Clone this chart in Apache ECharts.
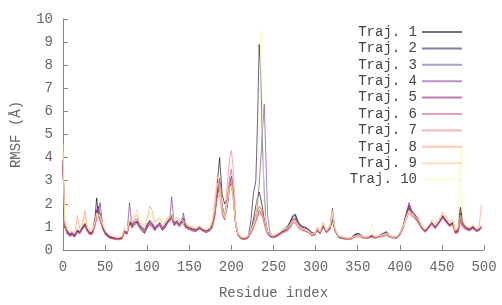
<!DOCTYPE html>
<html>
<head>
<meta charset="utf-8">
<script src="https://cdn.jsdelivr.net/npm/echarts@6/dist/echarts.min.js"></script>
<style>
  html, body { margin: 0; padding: 0; background: #fff; }
  #main { width: 502px; height: 305px; }
</style>
</head>
<body>
<div id="main"></div>
<script>
// residue positions shared by all trajectories
var residues = [
  0,2,5,8,11,14,17,20,23,26, 29,32,35,38,40,42,44,47,50,55, 60,65,70,73,76,79,82,85,88,91,
  94,97,100,103,106,109,112,115,118,121, 124,127,129,132,135,138,141,143,146,150, 154,158,162,166,170,174,
  177,180,183,186,189,192,195,198,200,202, 205,208,212,216,220,223,226,229,231,233, 235,237,239,241,243,246,250,
  254,258,262,266,270,273,276,279,283,287, 291,295,299,302,305,309,313,317,320,323,
  327,332,337,342,347,351,356,361,364,367, 370,375,380,384,388,392,396,400,404,408,
  411,414,418,422,426,430,434,438,442,446, 451,455,459,463,466,469,472,475,479,483,
  487,491,494,497
];

var trajNames = ['Traj. 1','Traj. 2','Traj. 3','Traj. 4','Traj. 5','Traj. 6','Traj. 7','Traj. 8','Traj. 9','Traj. 10'];
var trajColors = ['#000000','#1c1550','#6a4aa8','#7a2f95','#8a0c6c','#d3507e','#f47a82','#fb9a72','#fdc98f','#fbf6a8'];

var traj1 = [
  3.9,1.0,0.75,0.65,0.7,0.6,0.8,0.75,0.95,1.1, 0.85,0.7,0.75,1.4,2.25,1.5,1.3,0.95,0.7,0.55,
  0.5,0.48,0.5,0.8,0.7,1.2,1.0,1.15,1.2,1.0, 0.95,0.85,1.0,1.2,1.1,0.9,1.05,1.1,0.95,1.0,
  1.2,1.3,1.5,1.1,1.2,1.1,1.2,1.3,1.0,0.95, 0.9,0.85,0.95,0.85,0.8,0.85,
  1.0,1.7,2.8,4.0,2.4,2.0,2.2,2.8,3.1,2.6, 1.2,0.65,0.5,0.48,0.55,0.75,1.3,1.9,2.3,2.5,
  2.2,1.8,1.3,0.9,0.7,0.6,0.55,
  0.6,0.7,0.85,0.95,1.2,1.45,1.5,1.2,1.0,0.95, 0.9,0.75,0.7,0.85,0.7,1.0,0.75,0.9,1.3,0.85,
  0.55,0.5,0.48,0.5,0.65,0.7,0.55,0.52,0.55,0.6, 0.52,0.58,0.65,0.7,0.6,0.55,0.52,0.65,1.0,1.5,
  1.8,1.55,1.4,1.2,0.95,0.8,0.95,1.15,0.95,1.15, 1.45,1.25,1.05,1.15,0.75,0.9,1.85,1.2,0.95,0.9,
  1.0,0.85,0.9,0.95
];
var traj2 = [
  3.7,1.1,0.8,0.7,0.72,0.62,0.85,0.78,0.95,1.15, 0.88,0.72,0.78,1.2,1.7,1.9,1.5,1.0,0.75,0.58,
  0.52,0.5,0.53,0.82,0.72,1.25,1.05,1.2,1.25,1.05, 0.92,0.8,1.05,1.25,1.1,0.95,1.05,1.15,0.9,1.05,
  1.25,1.35,1.5,1.15,1.25,1.1,1.25,1.35,1.05,0.95, 0.9,0.88,0.98,0.88,0.82,0.88,
  1.05,1.5,2.4,3.0,1.9,1.5,1.9,2.7,2.9,2.3, 1.1,0.65,0.52,0.5,0.6,1.2,2.4,3.0,5.5,8.9,
  7.5,4.5,2.5,1.2,0.8,0.65,0.6,
  0.65,0.78,0.9,1.0,1.25,1.5,1.55,1.25,1.05,1.0, 0.92,0.78,0.72,0.9,0.75,1.05,0.8,0.95,1.35,0.88,
  0.6,0.55,0.5,0.52,0.68,0.72,0.58,0.55,0.58,0.62, 0.55,0.6,0.68,0.75,0.62,0.57,0.55,0.7,1.05,1.6,
  1.9,1.65,1.5,1.3,1.0,0.85,1.0,1.2,1.0,1.2, 1.5,1.3,1.1,1.2,0.8,0.85,1.6,1.1,0.95,0.9,
  1.0,0.85,0.9,1.0
];
var traj3 = [
  3.8,1.15,0.82,0.72,0.75,0.66,0.88,0.8,1.0,1.15, 0.9,0.76,0.8,1.25,1.75,1.7,1.6,1.05,0.78,0.6,
  0.54,0.5,0.55,0.84,0.74,1.3,1.1,1.3,1.35,1.1, 1.0,0.9,1.1,1.3,1.2,1.0,1.1,1.2,1.0,1.1,
  1.3,1.4,1.55,1.2,1.3,1.2,1.3,1.4,1.1,1.0, 0.95,0.9,1.0,0.9,0.85,0.9,
  1.1,1.6,2.6,2.9,1.8,1.4,2.0,2.9,3.0,2.4, 1.2,0.7,0.55,0.5,0.6,0.8,1.1,1.5,2.0,2.8,
  4.0,5.2,6.3,4.0,1.5,0.7,0.6,
  0.65,0.75,0.85,0.9,1.1,1.3,1.35,1.1,0.95,0.9, 0.85,0.7,0.7,0.9,0.75,1.1,0.8,1.0,1.45,0.9,
  0.6,0.55,0.5,0.5,0.62,0.66,0.56,0.55,0.6,0.66, 0.56,0.6,0.66,0.72,0.6,0.55,0.55,0.7,1.0,1.5,
  1.8,1.6,1.5,1.3,1.0,0.85,1.0,1.2,1.0,1.2, 1.5,1.3,1.1,1.2,0.8,0.8,1.3,1.1,0.95,0.9,
  1.0,0.85,0.9,1.0
];
var traj4 = [
  3.8,1.1,0.78,0.68,0.72,0.62,0.85,0.78,0.95,1.1, 0.85,0.72,0.78,1.2,1.7,1.55,1.5,1.0,0.75,0.58,
  0.52,0.48,0.52,0.8,0.72,2.05,1.0,1.2,1.25,1.0, 0.85,0.75,1.15,1.1,1.0,0.85,1.0,1.1,0.85,1.0,
  1.2,1.4,2.3,1.1,1.2,1.05,1.2,1.6,1.0,0.9, 0.85,0.82,0.95,0.85,0.78,0.85,
  1.0,1.5,2.5,3.1,1.9,1.45,1.9,2.8,2.9,2.3, 1.1,0.65,0.52,0.48,0.58,0.85,1.2,1.5,1.7,1.9,
  1.8,1.6,1.3,1.0,0.78,0.62,0.58,
  0.62,0.72,0.82,0.9,1.1,1.35,1.4,1.15,1.0,1.0, 0.9,0.72,0.68,0.88,0.72,1.05,0.78,0.95,1.4,0.88,
  0.58,0.52,0.5,0.52,0.7,0.68,0.56,0.52,0.56,0.62, 0.55,0.62,0.72,0.8,0.62,0.56,0.55,0.72,1.05,1.6,
  1.95,1.7,1.5,1.3,1.0,0.82,0.98,1.15,0.98,1.15, 1.45,1.25,1.05,1.15,0.78,0.85,1.4,1.1,0.95,0.9,
  1.05,0.9,0.95,1.05
];
var traj5 = [
  3.6,1.0,0.72,0.62,0.66,0.58,0.8,0.72,0.9,1.05, 0.82,0.68,0.72,1.1,1.5,1.7,2.05,1.1,0.72,0.55,
  0.5,0.46,0.5,0.75,0.68,1.2,0.95,1.1,1.15,0.95, 0.8,0.72,0.95,1.1,1.05,0.85,1.0,1.05,0.85,0.95,
  1.15,1.25,1.4,1.05,1.15,1.0,1.15,1.25,0.95,0.88, 0.82,0.8,0.92,0.82,0.75,0.82,
  0.95,1.4,2.3,2.7,1.7,1.3,1.9,2.9,3.2,2.5, 1.1,0.6,0.48,0.46,0.55,0.75,1.0,1.3,1.5,1.7,
  1.6,1.5,1.2,0.9,0.7,0.58,0.55,
  0.6,0.7,0.8,0.85,1.05,1.25,1.3,1.05,0.9,0.85, 0.8,0.66,0.66,0.85,0.7,1.05,0.75,1.0,1.8,0.85,
  0.56,0.5,0.48,0.48,0.6,0.64,0.54,0.52,0.56,0.6, 0.54,0.62,0.7,0.78,0.6,0.54,0.52,0.66,1.0,1.6,
  2.05,1.7,1.55,1.25,0.95,0.8,0.95,1.15,0.95,1.15, 1.45,1.25,1.05,1.15,0.75,0.75,1.3,1.05,0.9,0.85,
  0.95,0.8,0.85,0.95
];
var traj6 = [
  3.7,1.05,0.7,0.6,0.64,0.56,0.78,0.72,0.92,1.05, 0.8,0.66,0.7,1.05,1.4,1.45,1.4,0.95,0.7,0.52,
  0.48,0.45,0.48,0.78,0.7,1.15,1.05,1.2,1.2,1.0, 0.95,0.85,1.0,1.2,1.1,0.95,1.05,1.15,0.95,1.05,
  1.2,1.3,1.4,1.1,1.2,1.1,1.2,1.25,1.0,0.92, 0.88,0.85,0.95,0.85,0.8,0.85,
  1.0,1.5,2.4,2.7,1.6,1.3,2.2,3.2,3.5,2.6, 1.1,0.6,0.5,0.46,0.55,0.72,0.95,1.25,1.5,1.7,
  1.6,1.45,1.2,0.9,0.7,0.58,0.55,
  0.6,0.7,0.78,0.82,1.0,1.2,1.2,1.0,0.88,0.82, 0.78,0.64,0.64,0.85,0.7,1.05,0.75,0.95,1.5,0.85,
  0.55,0.5,0.46,0.46,0.56,0.6,0.52,0.5,0.54,0.58, 0.52,0.56,0.6,0.64,0.56,0.52,0.5,0.65,0.95,1.4,
  1.7,1.5,1.4,1.2,0.95,0.8,0.95,1.15,0.95,1.15, 1.4,1.2,1.05,1.1,0.72,0.8,1.2,1.0,0.88,0.85,
  0.95,0.8,0.85,1.0
];
var traj7 = [
  3.8,1.0,0.68,0.58,0.62,0.55,0.75,0.7,0.88,1.0, 0.78,0.64,0.68,1.0,1.3,1.35,1.3,0.9,0.65,0.5,
  0.46,0.44,0.46,0.75,0.68,1.1,1.0,1.15,1.15,0.95, 0.9,0.8,0.95,1.15,1.05,0.9,1.0,1.1,0.9,1.0,
  1.15,1.25,1.35,1.05,1.15,1.05,1.15,1.2,0.95,0.9, 0.85,0.82,0.9,0.82,0.78,0.82,
  0.95,1.4,2.2,2.4,1.5,1.3,2.8,4.0,4.3,3.6, 1.3,0.6,0.48,0.45,0.52,0.7,0.9,1.2,1.4,1.6,
  1.5,1.4,1.1,0.85,0.68,0.56,0.52,
  0.58,0.66,0.75,0.8,0.95,1.15,1.15,0.95,0.85,0.8, 0.75,0.62,0.62,0.95,0.7,1.15,0.75,0.9,1.4,0.8,
  0.54,0.48,0.45,0.46,0.55,0.58,0.5,0.5,0.52,0.56, 0.5,0.54,0.58,0.62,0.55,0.5,0.5,0.62,0.9,1.35,
  1.6,1.45,1.35,1.15,0.9,0.75,0.9,1.1,0.9,1.1, 1.35,1.15,1.0,1.05,0.7,0.72,1.1,0.95,0.85,0.82,
  0.9,0.78,0.82,0.95
];
var traj8 = [
  4.0,1.2,0.85,0.75,0.8,0.7,1.5,0.9,1.1,1.7, 1.0,0.8,0.85,1.2,1.6,1.5,1.45,1.1,0.85,0.65,
  0.58,0.52,0.58,0.95,0.82,1.3,1.2,1.45,1.5,1.2, 1.1,1.0,1.4,1.9,1.7,1.2,1.3,1.4,1.1,1.2,
  1.4,1.45,1.5,1.3,1.4,1.3,1.35,1.4,1.15,1.05, 1.0,0.95,1.05,0.95,0.9,0.95,
  1.2,1.7,2.8,3.0,1.9,1.5,2.1,3.0,3.1,2.5, 1.2,0.7,0.55,0.52,0.62,0.85,1.1,1.5,1.7,1.9,
  1.8,1.6,1.3,1.0,0.75,0.65,0.62,
  0.7,0.8,0.9,0.95,1.15,1.3,1.3,1.1,0.95,0.9, 0.85,0.72,0.72,1.0,0.8,1.2,0.85,1.05,1.5,0.95,
  0.62,0.56,0.52,0.52,0.6,0.65,0.56,0.56,0.6,0.65, 0.56,0.6,0.66,0.72,0.62,0.56,0.56,0.72,1.05,1.5,
  1.75,1.6,1.55,1.4,1.1,0.9,1.05,1.3,1.1,1.3, 1.65,1.45,1.2,1.3,0.85,0.9,1.3,1.15,1.0,0.95,
  1.05,0.9,0.95,1.97
];
var traj9 = [
  4.2,1.3,0.9,0.8,0.85,0.75,1.0,0.95,1.15,1.5, 1.0,0.82,0.88,1.25,1.6,1.55,1.5,1.15,0.88,0.66,
  0.6,0.54,0.6,1.0,0.85,1.35,1.3,1.5,1.75,1.3, 1.15,1.05,1.3,1.6,1.5,1.2,1.25,1.35,1.1,1.2,
  1.35,1.45,1.55,1.3,1.4,1.3,1.35,1.4,1.15,1.05, 1.0,0.95,1.05,0.95,0.9,1.0,
  1.3,2.2,3.2,2.8,1.8,1.4,2.0,2.8,3.0,2.4, 1.2,0.7,0.56,0.54,0.64,0.85,1.1,1.4,1.6,1.8,
  1.7,1.5,1.25,0.95,0.75,0.65,0.62,
  0.7,0.8,0.9,0.95,1.1,1.25,1.25,1.05,0.95,0.9, 0.85,0.72,0.72,0.95,0.78,1.15,0.85,1.05,1.55,0.95,
  0.62,0.56,0.52,0.52,0.6,0.64,0.56,0.56,0.6,0.7, 0.56,0.6,0.66,0.7,0.62,0.56,0.56,0.72,1.0,1.45,
  1.65,1.5,1.45,1.3,1.05,0.9,1.05,1.25,1.05,1.25, 1.6,1.4,1.2,1.3,0.85,0.95,1.5,1.2,1.0,1.0,
  1.1,0.9,0.95,1.1
];
var traj10 = [
  4.6,1.3,0.9,0.8,0.85,0.75,0.95,0.9,1.1,1.3, 0.95,0.8,0.85,1.2,1.55,1.5,1.45,1.1,0.85,0.65,
  0.58,0.53,0.58,0.95,0.82,1.3,1.25,1.45,1.6,1.25, 1.1,1.0,1.3,1.7,1.45,1.15,1.25,1.35,1.05,1.15,
  1.3,1.4,1.5,1.25,1.35,1.25,1.3,1.35,1.1,1.0, 0.98,0.92,1.02,0.92,0.88,0.95,
  1.2,1.8,2.9,2.7,1.7,1.4,2.0,2.7,2.8,2.2, 1.1,0.65,0.55,0.52,0.6,0.8,1.0,1.4,2.5,5.0,
  9.5,5.5,2.0,1.1,0.75,0.65,0.6,
  0.68,0.78,0.88,0.92,1.1,1.25,1.25,1.05,0.92,0.88, 0.82,0.7,0.7,0.95,0.78,1.15,0.82,1.0,1.7,0.9,
  0.6,0.55,0.5,0.52,0.6,0.64,0.56,0.56,0.62,1.13, 0.6,0.62,0.66,0.72,0.62,0.56,0.56,0.72,1.0,1.45,
  1.7,1.55,1.45,1.3,1.0,0.88,1.05,1.25,1.05,1.25, 1.55,1.35,1.15,1.25,0.85,1.0,4.4,1.3,1.05,1.0,
  1.1,0.9,0.95,1.05
];

var xTicks = [0, 500, 50];   // min, max, step
var yTicks = [0, 10, 1];

var allTraj = [traj1, traj2, traj3, traj4, traj5, traj6, traj7, traj8, traj9, traj10];

var fontFam = '"Liberation Mono", "DejaVu Sans Mono", monospace';
var txtColor = '#666';

var chart = echarts.init(document.getElementById('main'), null, { renderer: 'canvas' });

var series = allTraj.map(function (vals, i) {
    return {
        name: trajNames[i],
        type: 'line',
        data: residues.map(function (r, k) { return [r, vals[k]]; }),
        showSymbol: false,
        symbol: 'none',
        color: trajColors[i],
        lineStyle: { width: 1, opacity: 0.65 }
    };
});

var option = {
    animation: false,
    backgroundColor: '#fff',
    grid: { left: 63, right: 18, top: 19, bottom: 48 },
    legend: {
        orient: 'vertical',
        align: 'right',
        right: 35,
        top: 20,
        icon: 'rect',
        itemWidth: 40,
        itemHeight: 2,
        itemGap: 2.4,
        itemStyle: { opacity: 0.55 },
        textStyle: { fontFamily: fontFam, fontSize: 14, color: '#444' },
        data: trajNames
    },
    xAxis: {
        type: 'value',
        min: xTicks[0], max: xTicks[1], interval: xTicks[2],
        name: 'Residue index',
        nameLocation: 'middle',
        nameGap: 36,
        nameTextStyle: { fontFamily: fontFam, fontSize: 14, color: txtColor },
        axisLine: { lineStyle: { color: '#888' } },
        axisTick: { inside: true, length: 5, lineStyle: { color: '#888' } },
        axisLabel: { fontFamily: fontFam, fontSize: 14, color: txtColor, margin: 10 },
        splitLine: { show: false }
    },
    yAxis: {
        type: 'value',
        min: yTicks[0], max: yTicks[1], interval: yTicks[2],
        name: 'RMSF (Å)',
        nameLocation: 'middle',
        nameGap: 40,
        nameTextStyle: { fontFamily: fontFam, fontSize: 14, color: txtColor },
        axisLine: { show: true, lineStyle: { color: '#888' } },
        axisTick: { show: true, inside: true, length: 5, lineStyle: { color: '#888' } },
        axisLabel: { fontFamily: fontFam, fontSize: 14, color: txtColor, margin: 10 },
        splitLine: { show: false }
    },
    series: series
};

chart.setOption(option);
</script>
</body>
</html>
